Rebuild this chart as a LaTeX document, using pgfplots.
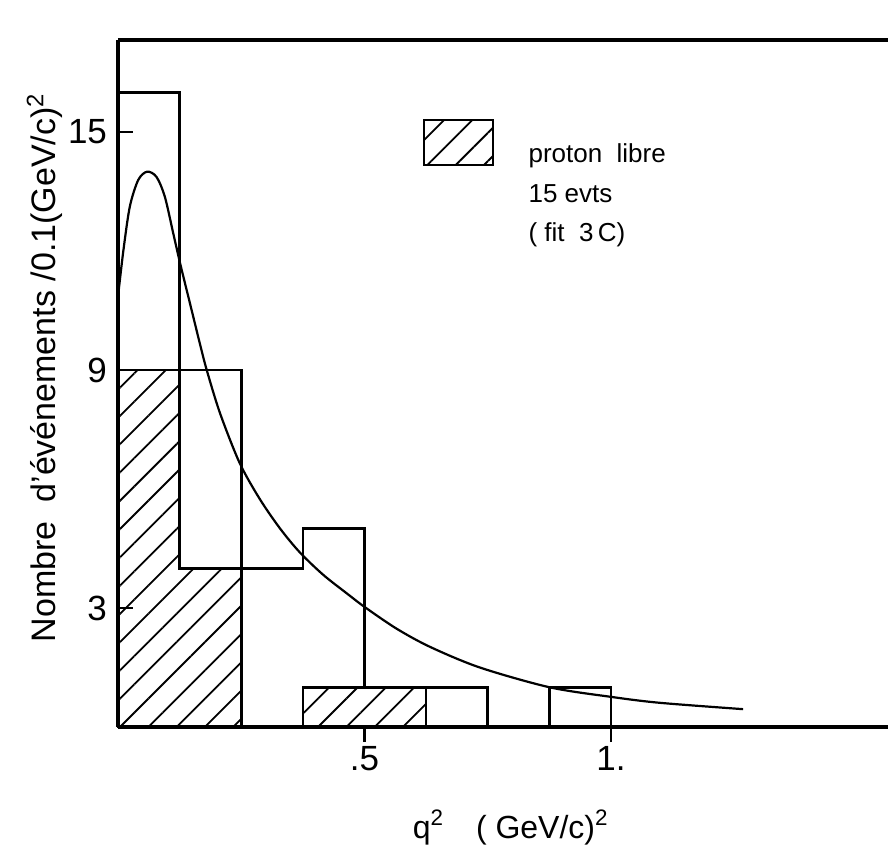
\documentclass[border=0pt]{standalone}
\usepackage{fontspec}
\setmainfont{Liberation Sans}
\usepackage{pgfplots}
\pgfplotsset{compat=1.18}
\usetikzlibrary{patterns.meta}

\begin{document}
\begin{tikzpicture}
\begin{axis}[
  scale only axis,
  width=385pt, height=343.5pt,
  xmin=0, xmax=1.562, ymin=0, ymax=17.32,
  axis x line*=bottom, axis y line*=left,
  axis line style={line width=1.6pt, -},
  xtick={0.5,1}, xticklabels={.5,1.},
  ytick={3,9,15}, yticklabels={3,9,15},
  tick align=inside,
  major tick length=7.5pt,
  tick style={line width=1.4pt, black},
  xtick style={yshift=-7.5pt},
  xticklabel style={font=\fontsize{17.5}{17.5}\selectfont, yshift=-6pt},
  yticklabel style={font=\fontsize{17.5}{17.5}\selectfont, xshift=-2pt},
  xlabel={q\textsuperscript{2}\quad( GeV/c)\textsuperscript{2}},
  xlabel style={font=\fontsize{16}{16}\selectfont, at={(rel axis cs:0.510,-0.146)}, anchor=center},
  ylabel={Nombre\ \ d'événements /0.1(GeV/c)\textsuperscript{2}},
  ylabel style={font=\fontsize{17}{17}\selectfont, at={(rel axis cs:-0.095,0.523)}, anchor=center},
  clip=false,
]
\addplot[const plot, line width=1.3pt, draw=black, pattern={Lines[angle=45,distance=10pt,line width=0.9pt]}]
  coordinates {(0,9)(0.125,4)(0.25,4)} \closedcycle;
\addplot[const plot, line width=1.3pt, draw=black, pattern={Lines[angle=45,distance=10pt,line width=0.9pt]}]
  coordinates {(0.375,1)(0.5,1)(0.625,1)} \closedcycle;
\addplot[const plot, line width=1.3pt, black, mark=none]
  coordinates {(0,16)(0.125,9)(0.25,4)(0.375,5)(0.5,1)(0.625,1)(0.75,0)(0.875,1)(1,0)};
\addplot[smooth, tension=0.5, line width=1.1pt, black, mark=none] coordinates {
  (0,10.85)(0.011,12.02)(0.024,13.12)(0.041,13.79)(0.059,14.0)(0.078,13.87)
  (0.095,13.37)(0.112,12.45)(0.126,11.69)(0.146,10.68)(0.166,9.67)(0.180,9.0)
  (0.207,7.91)(0.247,6.65)(0.288,5.74)(0.329,5.00)(0.369,4.40)(0.416,3.84)
  (0.464,3.37)(0.501,3.02)(0.565,2.48)(0.633,2.02)(0.734,1.50)(0.876,1.0)
  (1.0,0.76)(1.099,0.61)(1.268,0.45)};
\draw[line width=1.6pt] (rel axis cs:0,1) -- (rel axis cs:1,1);
\draw[line width=1.3pt, pattern={Lines[angle=45,distance=10pt,line width=0.9pt]}]
  (axis cs:0.621,14.17) rectangle (axis cs:0.761,15.3);
\node[anchor=base west, font=\fontsize{13}{13}\selectfont, inner sep=0pt] at (axis cs:0.832,14.24) {proton\ \ libre};
\node[anchor=base west, font=\fontsize{13}{13}\selectfont, inner sep=0pt] at (axis cs:0.832,13.23) {15 evts};
\node[anchor=base west, font=\fontsize{13}{13}\selectfont, inner sep=0pt] at (axis cs:0.832,12.23) {( fit\ \ 3\,C)};
\coordinate (sw) at (rel axis cs:0,0);
\coordinate (ne) at (rel axis cs:1,1);
\end{axis}
\path (sw) ++(-59pt,-60pt) coordinate (bl) (ne) ++(0pt,20pt) coordinate (tr);
\pgfresetboundingbox
\useasboundingbox (bl) rectangle (tr);
\end{tikzpicture}
\end{document}
